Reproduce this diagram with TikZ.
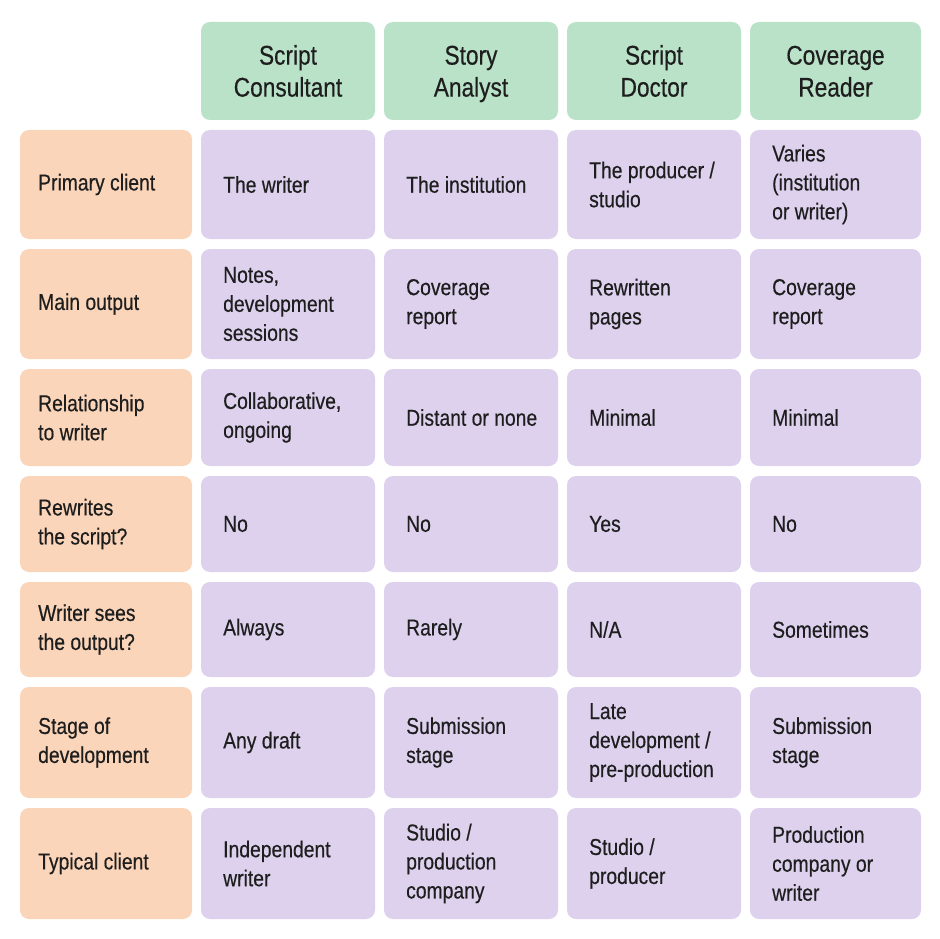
\documentclass[tikz,border=0pt]{standalone}
\usepackage{fontspec}
\setmainfont[FakeStretch=0.84,FakeBold=0.4]{Liberation Sans}
\begin{document}
\definecolor{hdr}{HTML}{B9E2C8}
\definecolor{lab}{HTML}{FBD5BA}
\definecolor{cel}{HTML}{DDD1EE}
\definecolor{ink}{HTML}{1E1E1E}
\begin{tikzpicture}[x=1pt,y=-1pt,
  box/.style={rounded corners=9pt,draw=none},
  txt/.style={text=ink,font=\fontsize{23}{29}\selectfont,align=left,anchor=west,inner sep=0},
  htxt/.style={text=ink,font=\fontsize{27}{32}\selectfont,align=center,inner sep=0,anchor=north}]
\useasboundingbox (0,0) rectangle (940,939);
\def\colL{{20,201,384,567,750}}
\def\colR{{192,375,558,741,921}}
\def\rowT{{22,130,249,369,476,582,687,808}}
\def\rowB{{120,239,359,466,572,677,798,919}}
% header
\foreach \c/\t in {1/{\strut Script\\Consultant},2/{\strut Story\\Analyst},3/{\strut Script\\Doctor},4/{\strut Coverage\\Reader}}{
  \pgfmathsetmacro\xl{\colL[\c]}\pgfmathsetmacro\xr{\colR[\c]}
  \fill[hdr,box] (\xl,22) rectangle (\xr,120);
  \node[htxt] (h\c) at ({(\xl+\xr)/2},42) {\t};
}
\foreach \r/\a/\b/\cc/\d/\e in {
 1/{Primary client}/{The writer}/{The institution}/{The producer /\\studio}/{Varies\\(institution\\or writer)},
 2/{Main output}/{Notes,\\development\\sessions}/{Coverage\\report}/{Rewritten\\pages}/{Coverage\\report},
 3/{Relationship\\to writer}/{Collaborative,\\ongoing}/{Distant or none}/{Minimal}/{Minimal},
 4/{Rewrites\\the script?}/{No}/{No}/{Yes}/{No},
 5/{Writer sees\\the output?}/{Always}/{Rarely}/{N/A}/{Sometimes},
 6/{Stage of\\development}/{Any draft}/{Submission\\stage}/{Late\\development /\\pre-production}/{Submission\\stage},
 7/{Typical client}/{Independent\\writer}/{Studio /\\production\\company}/{Studio /\\producer}/{Production\\company or\\writer}}{
  \pgfmathsetmacro\yt{\rowT[\r]}\pgfmathsetmacro\yb{\rowB[\r]}
  \pgfmathsetmacro\ym{(\yt+\yb)/2}
  \fill[lab,box] (20,\yt) rectangle (192,\yb);
  \node[txt] (l\r) at (38,\ym) {\a};
  \foreach \c/\t in {1/\b,2/\cc,3/\d,4/\e}{
    \pgfmathsetmacro\xl{\colL[\c]}\pgfmathsetmacro\xr{\colR[\c]}
    \fill[cel,box] (\xl,\yt) rectangle (\xr,\yb);
    \node[txt] (c\r\c) at (\xl+22,\ym) {\t};
  }
}
\end{tikzpicture}
\end{document}
